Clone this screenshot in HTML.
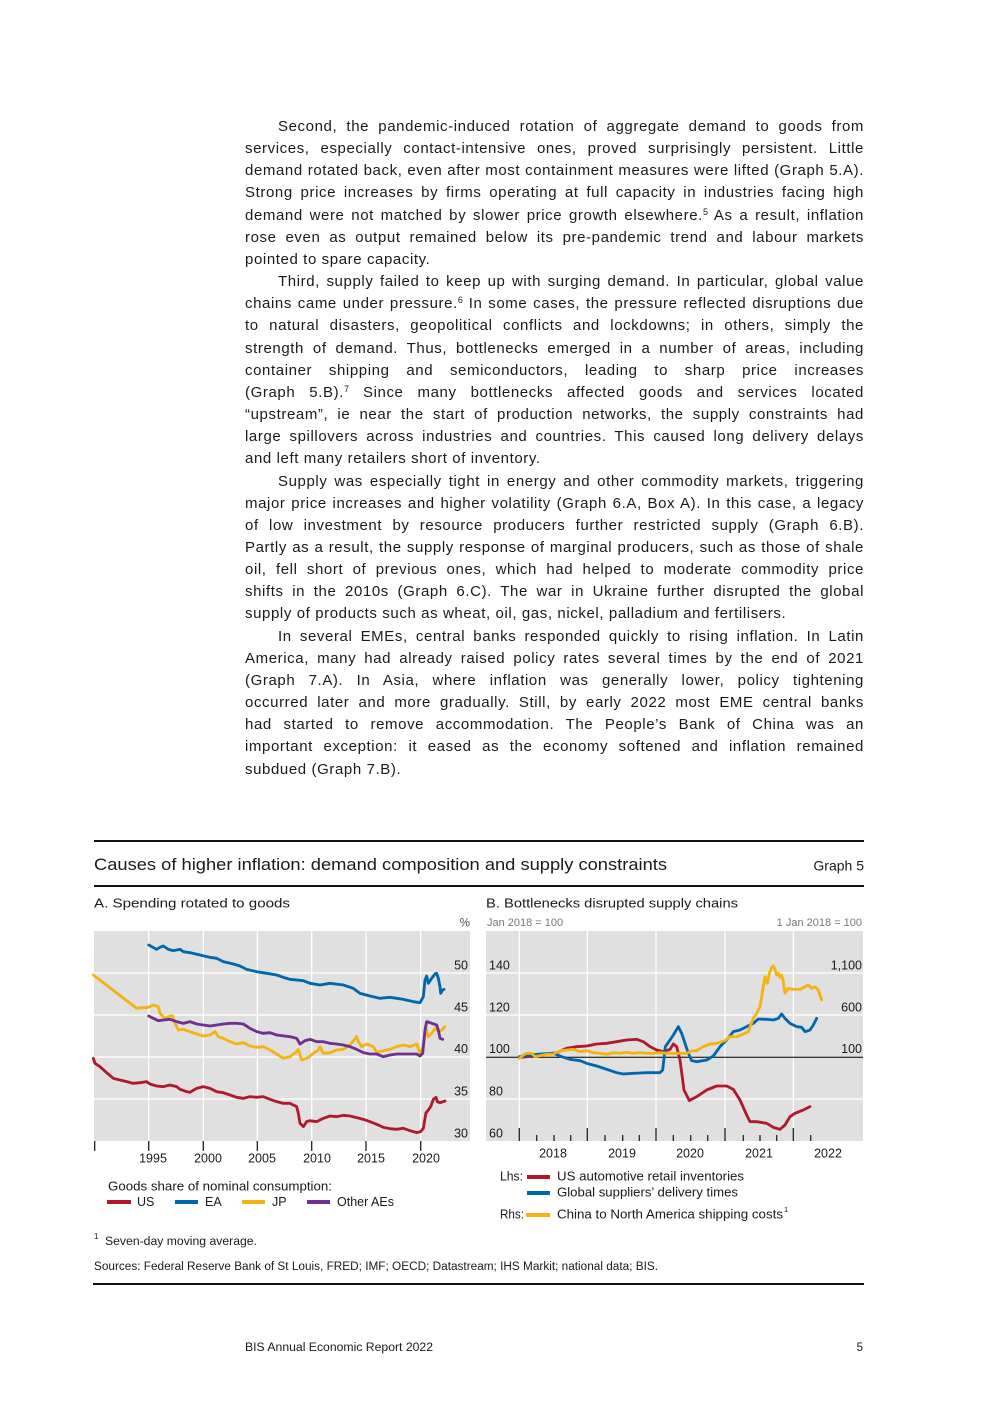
<!DOCTYPE html>
<html>
<head>
<meta charset="utf-8">
<style>
  html,body{margin:0;padding:0;}
  body{width:992px;height:1403px;background:#fff;position:relative;overflow:hidden;font-family:"Liberation Sans",sans-serif;color:#1a1a1a;}
  .txt{position:absolute;left:245px;top:116px;width:619px;font-size:15px;letter-spacing:0.6px;}
  .txt div{height:22.17px;line-height:22.17px;text-align:justify;text-align-last:justify;white-space:nowrap;}
  .txt div.l{text-align-last:left;}
  .txt div.i{text-indent:33px;}
  .sup{font-size:9px;position:relative;top:-5px;letter-spacing:0;}
  svg{position:absolute;left:0;top:0;}
  svg text{font-family:"Liberation Sans",sans-serif;fill:#1a1a1a;}
</style>
</head>
<body>
<div class="txt">
  <div class="i">Second, the pandemic-induced rotation of aggregate demand to goods from</div>
  <div>services, especially contact-intensive ones, proved surprisingly persistent. Little</div>
  <div>demand rotated back, even after most containment measures were lifted (Graph 5.A).</div>
  <div>Strong price increases by firms operating at full capacity in industries facing high</div>
  <div>demand were not matched by slower price growth elsewhere.<span class="sup">5</span> As a result, inflation</div>
  <div>rose even as output remained below its pre-pandemic trend and labour markets</div>
  <div class="l">pointed to spare capacity.</div>
  <div class="i">Third, supply failed to keep up with surging demand. In particular, global value</div>
  <div>chains came under pressure.<span class="sup">6</span> In some cases, the pressure reflected disruptions due</div>
  <div>to natural disasters, geopolitical conflicts and lockdowns; in others, simply the</div>
  <div>strength of demand. Thus, bottlenecks emerged in a number of areas, including</div>
  <div>container shipping and semiconductors, leading to sharp price increases</div>
  <div>(Graph 5.B).<span class="sup">7</span> Since many bottlenecks affected goods and services located</div>
  <div>“upstream”, ie near the start of production networks, the supply constraints had</div>
  <div>large spillovers across industries and countries. This caused long delivery delays</div>
  <div class="l">and left many retailers short of inventory.</div>
  <div class="i">Supply was especially tight in energy and other commodity markets, triggering</div>
  <div>major price increases and higher volatility (Graph 6.A, Box A). In this case, a legacy</div>
  <div>of low investment by resource producers further restricted supply (Graph 6.B).</div>
  <div>Partly as a result, the supply response of marginal producers, such as those of shale</div>
  <div>oil, fell short of previous ones, which had helped to moderate commodity price</div>
  <div>shifts in the 2010s (Graph 6.C). The war in Ukraine further disrupted the global</div>
  <div class="l">supply of products such as wheat, oil, gas, nickel, palladium and fertilisers.</div>
  <div class="i">In several EMEs, central banks responded quickly to rising inflation. In Latin</div>
  <div>America, many had already raised policy rates several times by the end of 2021</div>
  <div>(Graph 7.A). In Asia, where inflation was generally lower, policy tightening</div>
  <div>occurred later and more gradually. Still, by early 2022 most EME central banks</div>
  <div>had started to remove accommodation. The People’s Bank of China was an</div>
  <div>important exception: it eased as the economy softened and inflation remained</div>
  <div class="l">subdued (Graph 7.B).</div>
</div>

<svg width="992" height="1403" viewBox="0 0 992 1403" xmlns="http://www.w3.org/2000/svg">
  <!-- header rules -->
  <rect x="94" y="840" width="770" height="2" fill="#111"/>
  <rect x="94" y="885" width="770" height="2" fill="#111"/>
  <text x="94" y="870" font-size="17" textLength="573" lengthAdjust="spacingAndGlyphs">Causes of higher inflation: demand composition and supply constraints</text>
  <text x="864" y="870.5" font-size="14" text-anchor="end">Graph 5</text>

  <!-- ===== Panel A ===== -->
  <text x="94" y="907.5" font-size="13" textLength="196" lengthAdjust="spacingAndGlyphs">A. Spending rotated to goods</text>
  <text x="470" y="926.5" font-size="11.5" text-anchor="end" style="fill:#555">%</text>
  <rect x="94" y="931" width="376" height="210" fill="#E0E0E0"/>
  <g stroke="#fff" stroke-width="1.3">
    <line x1="94" y1="973" x2="470" y2="973"/>
    <line x1="94" y1="1015" x2="470" y2="1015"/>
    <line x1="94" y1="1057" x2="470" y2="1057"/>
    <line x1="94" y1="1099" x2="470" y2="1099"/>
    <line x1="148.7" y1="931" x2="148.7" y2="1141"/>
    <line x1="203.3" y1="931" x2="203.3" y2="1141"/>
    <line x1="257.3" y1="931" x2="257.3" y2="1141"/>
    <line x1="311.7" y1="931" x2="311.7" y2="1141"/>
    <line x1="366" y1="931" x2="366" y2="1141"/>
    <line x1="420.7" y1="931" x2="420.7" y2="1141"/>
  </g>
  <g stroke="#222" stroke-width="1.3">
    <line x1="94.7" y1="1141" x2="94.7" y2="1151"/>
    <line x1="148.7" y1="1141" x2="148.7" y2="1151"/>
    <line x1="203.3" y1="1141" x2="203.3" y2="1151"/>
    <line x1="257.3" y1="1141" x2="257.3" y2="1151"/>
    <line x1="311.7" y1="1141" x2="311.7" y2="1151"/>
    <line x1="366" y1="1141" x2="366" y2="1151"/>
    <line x1="420.7" y1="1141" x2="420.7" y2="1151"/>
  </g>
  <g font-size="12.5" text-anchor="end">
    <text x="468" y="969.5">50</text>
    <text x="468" y="1011.5">45</text>
    <text x="468" y="1053">40</text>
    <text x="468" y="1095.5">35</text>
    <text x="468" y="1137.5">30</text>
  </g>
  <g font-size="12.5" text-anchor="middle">
    <text x="153" y="1162.5">1995</text>
    <text x="208" y="1162.5">2000</text>
    <text x="262" y="1162.5">2005</text>
    <text x="317" y="1162.5">2010</text>
    <text x="371" y="1162.5">2015</text>
    <text x="426" y="1162.5">2020</text>
  </g>
  <g transform="translate(90,890) scale(0.333333)" fill="none" stroke-width="8.5" stroke-linejoin="round" stroke-linecap="round">
    <!-- US -->
    <polyline stroke="#B2182B" points="10,505 15,520 30,530 50,548 70,565 90,570 110,575 130,580 150,578 170,575 180,582 200,588 220,590 240,585 260,590 270,598 290,605 300,607 320,595 340,590 360,595 380,605 400,608 420,615 440,622 460,625 480,620 500,622 520,620 540,628 560,635 580,640 600,640 620,650 625,670 630,700 640,710 650,695 660,692 680,695 700,685 720,678 740,680 760,676 780,678 800,683 820,688 840,695 860,703 880,712 900,716 920,718 940,715 960,722 980,728 992,725 1000,715 1008,668 1015,660 1022,650 1030,628 1038,622 1042,635 1050,638 1065,633"/>
    <!-- EA -->
    <polyline stroke="#0066AD" points="176,165 185,170 200,178 210,172 220,168 235,178 250,182 270,178 280,185 300,188 330,195 360,202 380,205 400,215 430,222 450,228 470,238 500,245 530,250 560,255 580,262 600,268 640,272 660,280 690,285 720,280 760,285 790,295 810,310 840,318 870,325 900,322 940,328 970,335 990,338 1000,320 1005,270 1010,258 1015,280 1025,265 1035,252 1040,250 1045,265 1050,290 1052,310 1058,300 1062,298"/>
    <!-- JP -->
    <polyline stroke="#F5B30F" points="10,255 140,355 175,352 190,345 205,350 210,370 225,385 240,378 248,378 255,400 265,420 280,418 300,425 320,432 340,438 360,435 375,425 385,440 400,445 420,455 440,462 460,458 480,468 500,472 520,470 540,480 560,492 580,505 600,500 620,485 625,478 635,510 650,505 670,490 685,480 690,470 700,490 720,488 740,480 760,478 780,465 800,440 805,455 815,470 830,462 850,470 860,487 880,482 900,478 920,470 940,465 960,470 980,462 990,490 1000,470 1008,415 1015,440 1025,430 1035,415 1045,425 1055,420 1065,410"/>
    <!-- Other AEs -->
    <polyline stroke="#70308F" points="176,378 190,385 205,392 220,390 240,388 260,395 280,400 300,395 320,402 340,405 360,408 380,405 400,402 420,400 440,400 460,402 480,415 500,425 520,430 540,428 560,435 600,440 620,445 630,462 645,452 660,448 680,455 700,455 720,460 740,462 760,465 780,470 800,478 820,488 840,492 860,492 880,500 900,495 920,492 940,492 960,492 980,492 990,498 998,490 1005,420 1010,395 1020,398 1040,405 1045,420 1050,445 1058,448"/>
  </g>
  <!-- legend A -->
  <text x="108" y="1190.5" font-size="13" textLength="224" lengthAdjust="spacingAndGlyphs">Goods share of nominal consumption:</text>
  <rect x="107" y="1200" width="24" height="4" fill="#B2182B"/>
  <text x="137" y="1206" font-size="12.5">US</text>
  <rect x="175" y="1200" width="23" height="4" fill="#0066AD"/>
  <text x="205" y="1206" font-size="12.5">EA</text>
  <rect x="242" y="1200" width="23" height="4" fill="#F5B30F"/>
  <text x="272" y="1206" font-size="12.5">JP</text>
  <rect x="307" y="1200" width="23" height="4" fill="#70308F"/>
  <text x="337" y="1206" font-size="12.5">Other AEs</text>

  <!-- ===== Panel B ===== -->
  <text x="486" y="907.5" font-size="13" textLength="252" lengthAdjust="spacingAndGlyphs">B. Bottlenecks disrupted supply chains</text>
  <text x="487" y="926" font-size="11" style="fill:#777">Jan 2018 = 100</text>
  <text x="862" y="926" font-size="11" text-anchor="end" style="fill:#777">1 Jan 2018 = 100</text>
  <rect x="486" y="931" width="377" height="210" fill="#E0E0E0"/>
  <g stroke="#fff" stroke-width="1.3">
    <line x1="486" y1="973" x2="863" y2="973"/>
    <line x1="486" y1="1015" x2="863" y2="1015"/>
    <line x1="486" y1="1099" x2="863" y2="1099"/>
    <line x1="519.3" y1="931" x2="519.3" y2="1141"/>
    <line x1="587.3" y1="931" x2="587.3" y2="1141"/>
    <line x1="656" y1="931" x2="656" y2="1141"/>
    <line x1="725" y1="931" x2="725" y2="1141"/>
    <line x1="793.3" y1="931" x2="793.3" y2="1141"/>
  </g>
  <line x1="486" y1="1057.3" x2="863" y2="1057.3" stroke="#000" stroke-width="1"/>
  <g stroke="#222" stroke-width="1.3">
    <line x1="519.3" y1="1128" x2="519.3" y2="1141"/>
    <line x1="536.7" y1="1135" x2="536.7" y2="1141"/>
    <line x1="554" y1="1135" x2="554" y2="1141"/>
    <line x1="570.7" y1="1135" x2="570.7" y2="1141"/>
    <line x1="587.3" y1="1128" x2="587.3" y2="1141"/>
    <line x1="605" y1="1135" x2="605" y2="1141"/>
    <line x1="622.7" y1="1135" x2="622.7" y2="1141"/>
    <line x1="639.3" y1="1135" x2="639.3" y2="1141"/>
    <line x1="656" y1="1128" x2="656" y2="1141"/>
    <line x1="673.3" y1="1135" x2="673.3" y2="1141"/>
    <line x1="690.7" y1="1135" x2="690.7" y2="1141"/>
    <line x1="707.7" y1="1135" x2="707.7" y2="1141"/>
    <line x1="725" y1="1128" x2="725" y2="1141"/>
    <line x1="743.3" y1="1135" x2="743.3" y2="1141"/>
    <line x1="760" y1="1135" x2="760" y2="1141"/>
    <line x1="776.7" y1="1135" x2="776.7" y2="1141"/>
    <line x1="793.3" y1="1128" x2="793.3" y2="1141"/>
    <line x1="810.7" y1="1135" x2="810.7" y2="1141"/>
  </g>
  <g font-size="12.5">
    <text x="489" y="969.5">140</text>
    <text x="489" y="1011.5">120</text>
    <text x="489" y="1053">100</text>
    <text x="489" y="1095.5">80</text>
    <text x="489" y="1137.5">60</text>
  </g>
  <g font-size="12.5" text-anchor="end">
    <text x="862" y="969.5">1,100</text>
    <text x="862" y="1011.5">600</text>
    <text x="862" y="1053">100</text>
  </g>
  <g font-size="12.5" text-anchor="middle">
    <text x="553" y="1157.5">2018</text>
    <text x="622" y="1157.5">2019</text>
    <text x="690" y="1157.5">2020</text>
    <text x="759" y="1157.5">2021</text>
    <text x="828" y="1157.5">2022</text>
  </g>
  <g transform="translate(480,890) scale(0.333333)" fill="none" stroke-width="8.5" stroke-linejoin="round" stroke-linecap="round">
    <!-- US automotive -->
    <polyline stroke="#B2182B" points="118,502 140,500 170,495 200,492 230,488 260,475 290,470 320,468 350,462 380,460 410,455 440,450 470,448 490,455 510,470 530,480 550,485 570,478 580,462 590,470 600,510 612,600 628,632 650,620 680,600 710,588 740,588 760,598 780,630 800,675 810,695 830,695 860,700 880,712 900,718 915,705 930,680 945,670 970,660 990,650"/>
    <!-- Global suppliers -->
    <polyline stroke="#0066AD" points="118,500 150,495 180,492 220,490 245,500 270,508 300,512 320,520 350,528 380,538 410,548 430,552 460,550 500,548 540,548 548,540 556,470 570,450 580,435 595,410 605,430 615,460 625,490 635,512 650,515 680,510 700,498 720,470 740,450 760,425 780,420 800,410 820,400 835,387 860,388 880,390 895,385 905,372 915,385 930,400 950,410 965,412 975,425 990,420 1000,405 1010,385"/>
    <!-- Shipping -->
    <polyline stroke="#F5B30F" points="118,505 130,495 140,490 155,490 165,500 180,497 200,493 220,492 230,487 245,482 260,480 280,478 300,485 320,482 340,488 360,490 380,493 400,488 420,490 440,487 460,490 480,488 500,490 520,490 540,488 560,490 580,490 600,490 620,490 635,483 650,482 670,470 690,462 710,460 735,452 750,440 770,440 790,432 805,425 810,410 820,385 830,370 840,350 850,290 855,260 862,280 868,250 875,232 880,228 885,238 890,255 895,250 900,262 905,255 910,275 915,310 925,295 940,298 960,298 975,290 985,285 995,295 1005,290 1015,300 1020,315 1025,330"/>
  </g>
  <!-- legend B -->
  <text x="500" y="1180.5" font-size="12.5" textLength="23" lengthAdjust="spacingAndGlyphs">Lhs:</text>
  <rect x="527" y="1175" width="23" height="4" fill="#B2182B"/>
  <text x="557" y="1180.5" font-size="13" textLength="187" lengthAdjust="spacingAndGlyphs">US automotive retail inventories</text>
  <rect x="527" y="1191" width="23" height="4" fill="#0066AD"/>
  <text x="557" y="1196.5" font-size="13" textLength="181" lengthAdjust="spacingAndGlyphs">Global suppliers’ delivery times</text>
  <text x="500" y="1218.5" font-size="12.5" textLength="24" lengthAdjust="spacingAndGlyphs">Rhs:</text>
  <rect x="526" y="1213" width="24" height="4" fill="#F5B30F"/>
  <text x="557" y="1218.5" font-size="13" textLength="226" lengthAdjust="spacingAndGlyphs">China to North America shipping costs</text>
  <text x="784" y="1212" font-size="7.5">1</text>

  <!-- footnotes -->
  <text x="94" y="1239" font-size="8">1</text>
  <text x="105" y="1245" font-size="11.5" textLength="152" lengthAdjust="spacingAndGlyphs">Seven-day moving average.</text>
  <text x="94" y="1270" font-size="11.5" textLength="564" lengthAdjust="spacingAndGlyphs">Sources: Federal Reserve Bank of St Louis, FRED; IMF; OECD; Datastream; IHS Markit; national data; BIS.</text>
  <rect x="93" y="1283" width="771" height="2" fill="#111"/>

  <!-- page footer -->
  <text x="245" y="1351" font-size="11.5" textLength="188" lengthAdjust="spacingAndGlyphs">BIS Annual Economic Report 2022</text>
  <text x="863" y="1351" font-size="11.5" text-anchor="end">5</text>
</svg>
</body>
</html>
